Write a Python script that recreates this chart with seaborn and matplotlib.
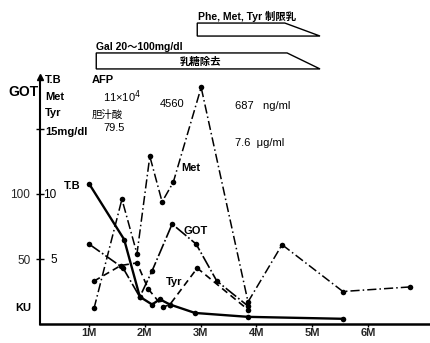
import matplotlib
matplotlib.use("Agg")
import matplotlib.pyplot as plt
import seaborn as sns

# months after birth and measured values
tb_month = [1.00, 1.63, 1.91, 2.13, 2.27, 2.45, 2.90, 3.85, 5.55]
tb_mgdl = [10.8, 6.5, 2.1, 1.5, 1.9, 1.5, 0.85, 0.55, 0.4]

got_month = [1.00, 1.61, 1.91, 2.13, 2.49, 2.92, 3.29, 3.85]
got_ku = [61.5, 43.1, 20.8, 40.8, 76.9, 61.5, 33.1, 13.8]

met_month = [1.09, 1.59, 1.86, 2.09, 2.31, 2.51, 3.01, 3.85, 4.46, 5.55, 6.75]
met_mgdl = [1.2, 9.6, 5.4, 12.9, 9.4, 10.9, 18.2, 1.7, 6.1, 2.5, 2.85]

tyr_month = [1.09, 1.57, 1.86, 2.06, 2.33, 2.45, 2.94, 3.85]
tyr_mgdl = [3.3, 4.5, 4.7, 2.7, 1.3, 1.5, 4.3, 1.1]

month_ticks = [1, 2, 3, 4, 5, 6]
month_labels = ["1M", "2M", "3M", "4M", "5M", "6M"]

# treatment periods: start, start of taper, end (months)
lactose_free = [1.13, 4.55, 5.14]
restricted_milk = [2.94, 4.51, 5.14]

sns.set_theme(style="white")
plt.rcParams["font.family"] = ["Liberation Sans", "Noto Sans CJK JP", "DejaVu Sans"]

W, H = 431, 343
fig = plt.figure(figsize=(W / 100, H / 100), dpi=100)
ax = fig.add_axes([40 / W, 19 / H, 391 / W, 320 / H])


def px(x, y):
    return x / W, 1 - y / H


def label(x, y, s, size=8, weight="bold", ha="left", **kw):
    fig.text(*px(x, y), s, fontsize=size, fontweight=weight, ha=ha, va="center",
             color="black", **kw)


series = [
    (tb_month, [v * 10 for v in tb_mgdl], "-", 1.7),
    (got_month, got_ku, (0, (8, 1.5, 1, 1.5)), 1.2),
    (met_month, [v * 10 for v in met_mgdl], (0, (6, 2, 1, 2)), 1.1),
    (tyr_month, [v * 10 for v in tyr_mgdl], (0, (4, 2.5)), 1.2),
]
for xs, ys, ls, lw in series:
    sns.lineplot(x=xs, y=ys, ax=ax, color="black", lw=lw, marker="o",
                 markersize=4, markeredgewidth=0, estimator=None, sort=False)
    ax.lines[-1].set_linestyle(ls)

x0 = 1 + (40 - 89) / 55.8
x1 = 1 + (431 - 89) / 55.8
ax.set_xlim(x0, x1)
ax.set_ylim(0, 320 / 1.3)

# treatment bars above the plot
for (start, taper, end), ybot, ytop in [(lactose_free, 196.2, 208.5),
                                        (restricted_milk, 221.5, 231.5)]:
    ax.fill([start, start, taper, end], [ybot, ytop, ytop, ybot],
            facecolor="white", edgecolor="black", lw=1.0, clip_on=False)

for side in ["top", "right"]:
    ax.spines[side].set_visible(False)
ax.spines["left"].set_bounds(0, 188)
ax.spines["left"].set_linewidth(1.5)
ax.spines["bottom"].set_linewidth(1.8)
ax.spines["left"].set_color("black")
ax.spines["bottom"].set_color("black")
ax.plot([x0], [190], marker="^", color="black", markersize=5, clip_on=False)

ax.set_xticks(month_ticks)
ax.set_xticklabels(month_labels, fontsize=8, fontweight="bold")
ax.set_yticks([50, 100, 150])
ax.set_yticklabels(["50", "100", ""], fontsize=8.5)
ax.tick_params(axis="x", bottom=True, direction="out", length=2, width=1,
               color="black", pad=1)
ax.tick_params(axis="y", left=True, direction="inout", length=6, width=1,
               color="black", pad=4)
ax.set_xlabel("")
ax.set_ylabel("")

# axis annotations
label(8, 92, "GOT", size=10)
label(45, 80, "T.B")
label(45, 97, "Met")
label(45, 113, "Tyr")
label(45, 132, "15mg/dl")
label(43, 195, "10", weight="normal", size=8.5)
label(50, 260, "5", weight="normal", size=8.5)
label(15, 308, "KU")

label(92, 80, "AFP")
label(103, 97, "11×10$^{4}$", weight="normal")
label(160, 104, "4560", weight="normal")
label(235, 106, "687   ng/ml", weight="normal")
label(92, 115, "胆汁酸", size=7.5, weight="normal")
label(103, 128, "79.5", weight="normal")
label(235, 143, "7.6  μg/ml", weight="normal")

label(198, 16, "Phe, Met, Tyr 制限乳", size=7.5)
label(96, 47, "Gal 20〜100mg/dl", size=7.5)
label(200, 62, "乳糖除去", size=7.5, ha="center")

# series names
label(64, 186, "T.B")
label(181, 168, "Met")
label(184, 231, "GOT")
label(166, 282, "Tyr")

fig.savefig("out.png", dpi=100)
